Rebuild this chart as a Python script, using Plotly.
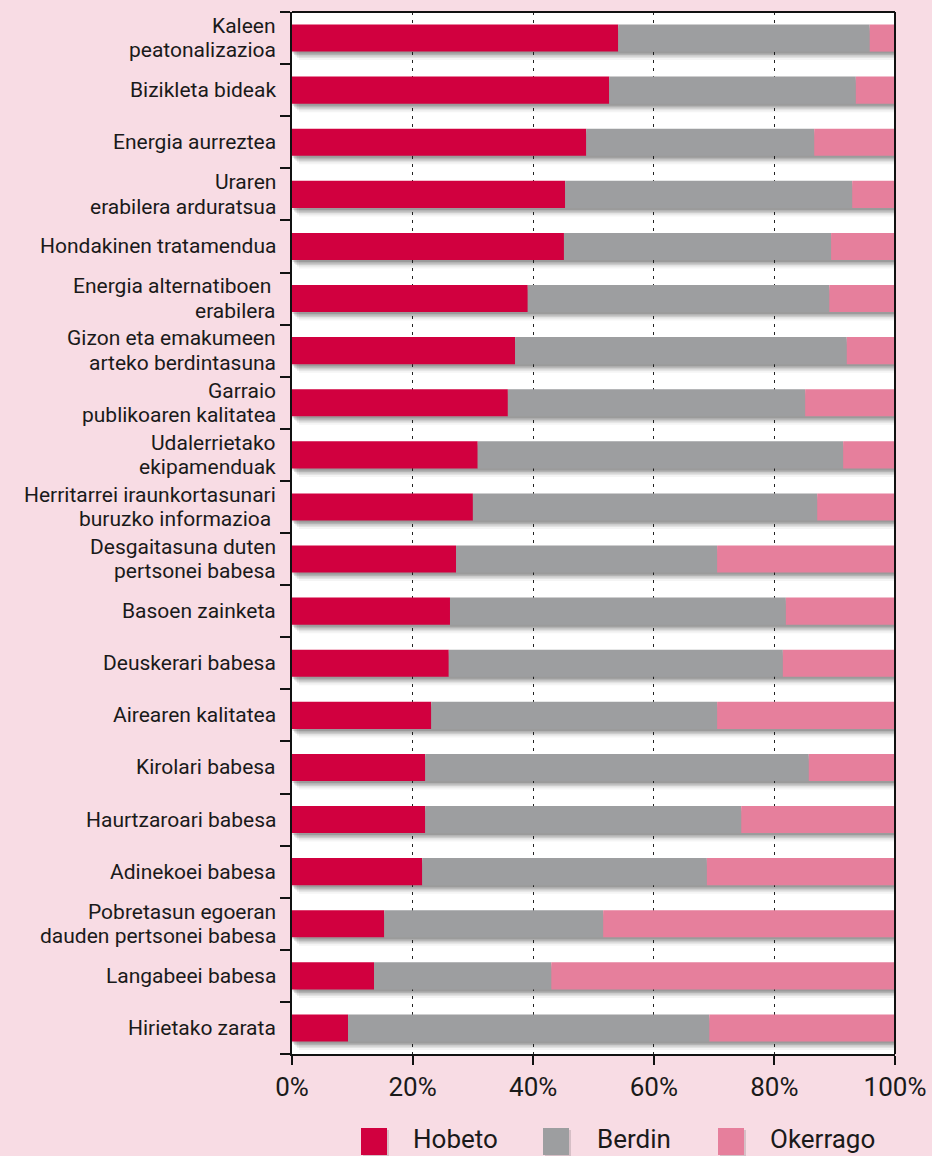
import plotly.graph_objects as go

# ---------------- data ----------------
categories = [
    "Kaleen<br>peatonalizazioa",
    "Bizikleta bideak",
    "Energia aurreztea",
    "Uraren<br>erabilera arduratsua",
    "Hondakinen tratamendua",
    "Energia alternatiboen\u00a0<br>erabilera",
    "Gizon eta emakumeen<br>arteko berdintasuna",
    "Garraio<br>publikoaren kalitatea",
    "Udalerrietako<br>ekipamenduak",
    "Herritarrei iraunkortasunari<br>buruzko informazioa\u00a0",
    "Desgaitasuna duten<br>pertsonei babesa",
    "Basoen zainketa",
    "Deuskerari babesa",
    "Airearen kalitatea",
    "Kirolari babesa",
    "Haurtzaroari babesa",
    "Adinekoei babesa",
    "Pobretasun egoeran<br>dauden pertsonei babesa",
    "Langabeei babesa",
    "Hirietako zarata",
]
hobeto = [54.1, 52.6, 48.8, 45.3, 45.1, 39.1, 37.0, 35.8, 30.8, 30.0,
          27.2, 26.2, 26.0, 23.1, 22.1, 22.1, 21.6, 15.3, 13.6, 9.3]
berdin = [41.7, 40.9, 37.8, 47.6, 44.3, 50.0, 55.0, 49.3, 60.6, 57.1,
          43.3, 55.7, 55.4, 47.4, 63.6, 52.4, 47.2, 36.3, 29.4, 59.9]
okerrago = [4.2, 6.5, 13.4, 7.1, 10.6, 10.9, 8.0, 14.9, 8.6, 12.9,
            29.5, 18.1, 18.6, 29.5, 14.3, 25.5, 31.2, 48.4, 57.0, 30.8]
series_names = ["Hobeto", "Berdin", "Okerrago"]
series_colors = ["#d1003f", "#9d9ea0", "#e67f9c"]
tick_values = [0, 20, 40, 60, 80, 100]
tick_labels = ["0%", "20%", "40%", "60%", "80%", "100%"]

# ---------------- layout geometry ----------------
W, H = 932, 1156
ML, MR, MT, MB = 292, 37, 12, 102
PW = W - ML - MR
PH = H - MT - MB
FONT = "Roboto, Liberation Sans, Arial, sans-serif"
BAR_W = 0.52
px_per_pct = PW / 100.0
px_per_cat = PH / len(categories)

idx = list(range(len(categories)))
totals = [a + b + c for a, b, c in zip(hobeto, berdin, okerrago)]

fig = go.Figure()

# soft drop shadows under bars (layered to imitate blur)
for dx, dy, alpha in [(8, 8.5, 0.05), (6, 6.5, 0.08), (4.5, 5, 0.11), (3, 3.5, 0.14), (1.5, 2, 0.16)]:
    fig.add_trace(go.Bar(
        y=idx, x=totals, base=dx / px_per_pct - 1.0 / px_per_pct, orientation="h",
        width=BAR_W, offset=-BAR_W / 2 + dy / px_per_cat,
        marker=dict(color=f"rgba(30,30,30,{alpha})", line=dict(width=0)),
        showlegend=False, hoverinfo="skip", cliponaxis=False,
    ))

# stacked segments (overlay mode with explicit bases)
bases = [0.0] * len(categories)
for name, vals, col in zip(series_names, [hobeto, berdin, okerrago], series_colors):
    fig.add_trace(go.Bar(
        y=idx, x=vals, base=list(bases), orientation="h", name=name,
        width=BAR_W, offset=-BAR_W / 2,
        marker=dict(color=col, line=dict(width=0)),
        showlegend=False,
    ))
    bases = [b + v for b, v in zip(bases, vals)]

annotations = []
# category labels (right-aligned, tight line spacing)
LINE_GAP = 24.5
for i, lab in enumerate(categories):
    lines = lab.split("<br>")
    n = len(lines)
    for k, ln in enumerate(lines):
        shift = ((n - 1) / 2.0 - k) * LINE_GAP
        annotations.append(dict(
            x=0, xref="paper", y=i, yref="y", text=ln, showarrow=False,
            xanchor="right", yanchor="middle", xshift=-14, yshift=shift,
            font=dict(family=FONT, size=21, color="#1a1a1a"),
        ))

# legend drawn manually with larger squares
def px_x(p):
    return (p - ML) / PW

def px_y(p):
    return (H - MB - p) / PH

shapes = [
    # top and right frame lines
    dict(type="line", xref="paper", yref="paper", x0=0, x1=1, y0=1, y1=1,
         line=dict(color="#111111", width=2), layer="above"),
    dict(type="line", xref="paper", yref="paper", x0=1, x1=1, y0=0, y1=1,
         line=dict(color="#111111", width=2), layer="above"),
]
leg_sq_left = [361, 543, 718]
leg_txt_left = [413, 597, 770]
sq_top, sq_bot = 1128, 1155
for name, col, sl, tl in zip(series_names, series_colors, leg_sq_left, leg_txt_left):
    shapes.append(dict(type="rect", xref="paper", yref="paper",
                       x0=px_x(sl + 2), x1=px_x(sl + 28), y0=px_y(sq_bot + 1), y1=px_y(sq_top + 2),
                       fillcolor="rgba(60,60,60,0.18)", line=dict(width=0), layer="above"))
    shapes.append(dict(type="rect", xref="paper", yref="paper",
                       x0=px_x(sl), x1=px_x(sl + 26), y0=px_y(sq_bot), y1=px_y(sq_top),
                       fillcolor=col, line=dict(width=0), layer="above"))
    annotations.append(dict(
        x=px_x(tl), xref="paper", y=px_y(1139), yref="paper", text=name,
        showarrow=False, xanchor="left", yanchor="middle", xshift=-2,
        font=dict(family=FONT, size=26, color="#1a1a1a"),
    ))

fig.update_layout(
    width=W, height=H,
    margin=dict(l=ML, r=MR, t=MT, b=MB, pad=0),
    paper_bgcolor="#f8dce4",
    plot_bgcolor="#ffffff",
    barmode="overlay",
    showlegend=False,
    annotations=annotations,
    shapes=shapes,
    xaxis=dict(
        range=[0, 100], tickvals=tick_values, ticktext=tick_labels,
        showgrid=True, gridcolor="#222222", gridwidth=1, griddash="3px,5px",
        zeroline=False, showline=True, linecolor="#111111", linewidth=2,
        ticks="outside", ticklen=9, tickwidth=1.5, tickcolor="#111111",
        tickfont=dict(family=FONT, size=26, color="#1a1a1a"),
        automargin=False, fixedrange=True,
    ),
    yaxis=dict(
        range=[len(categories) - 0.5, -0.5],
        tickvals=[i - 0.5 for i in range(len(categories) + 1)],
        showticklabels=False, showgrid=False, zeroline=False,
        showline=True, linecolor="#111111", linewidth=2,
        ticks="outside", ticklen=10, tickwidth=1.5, tickcolor="#111111",
        automargin=False, fixedrange=True,
    ),
)

fig.write_html(
    "out.html",
    config={"displayModeBar": False},
    post_script="document.body.style.margin='0';document.body.style.padding='0';"
                "document.body.style.background='#f8dce4';",
)
